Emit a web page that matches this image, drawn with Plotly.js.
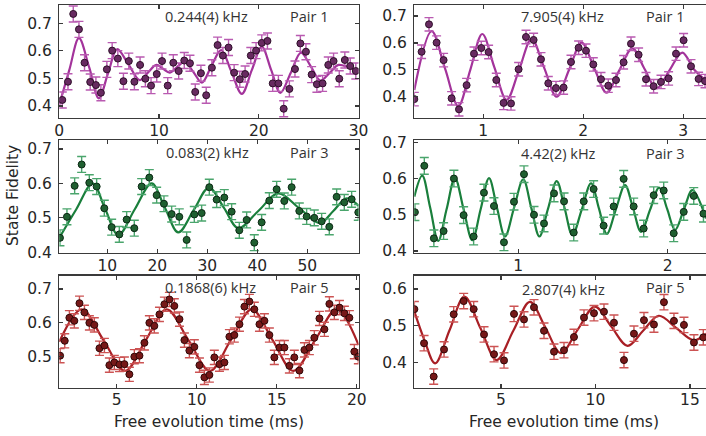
<!DOCTYPE html>
<html><head><meta charset="utf-8">
<script src="https://cdn.plot.ly/plotly-3.0.1.min.js"></script>
<style>html,body{margin:0;padding:0;background:#fff}#chart{width:706px;height:436px}</style>
</head><body><div id="chart"></div>
<script>
// ---- Panel 1: Pair 1, 0.244(4) kHz ----
const p1_t = [0.3,0.87,1.4,1.97,2.53,3.1,3.67,4.17,4.77,5.3,5.87,6.43,6.97,7.53,8.1,8.63,9.2,9.77,10.3,10.87,11.43,11.97,12.53,13.1,13.63,14.2,14.73,15.3,15.87,16.4,16.97,17.53,18.1,18.63,19.2,19.73,20.3,20.87,21.4,21.97,22.5,23.07,23.63,24.17,24.73,25.3,25.83,26.4,26.97,27.5,28.07,28.63,29.17,29.73];
const p1_v = [0.422,0.488,0.734,0.678,0.557,0.487,0.476,0.448,0.533,0.601,0.572,0.49,0.563,0.488,0.549,0.499,0.474,0.516,0.563,0.474,0.557,0.527,0.565,0.555,0.451,0.519,0.439,0.539,0.621,0.583,0.612,0.521,0.497,0.516,0.583,0.601,0.629,0.636,0.482,0.482,0.39,0.462,0.534,0.627,0.597,0.514,0.479,0.482,0.549,0.563,0.499,0.567,0.545,0.527];
const p1_err = 0.029;
const f1_t = [0,1.0,1.97,3.0,3.97,4.9,5.8,6.95,8.07,8.9,9.73,10.4,11.07,11.8,12.57,13.45,14.3,15.25,16.23,17.25,18.3,19.3,20.3,21.25,22.17,23.2,24.23,25.2,26.17,27.1,28.0,29.0,30];
const f1_v = [0.405,0.53,0.646,0.54,0.428,0.52,0.606,0.55,0.494,0.522,0.549,0.535,0.521,0.541,0.561,0.523,0.485,0.545,0.603,0.525,0.444,0.53,0.615,0.53,0.448,0.52,0.594,0.545,0.492,0.52,0.549,0.54,0.527];

// ---- Panel 2: Pair 1, 7.905(4) kHz ----
const p2_t = [0.31,0.383,0.457,0.533,0.603,0.683,0.757,0.833,0.907,0.98,1.053,1.13,1.203,1.277,1.353,1.427,1.503,1.577,1.65,1.727,1.803,1.877,1.953,2.027,2.1,2.177,2.25,2.327,2.403,2.477,2.553,2.627,2.703,2.777,2.853,2.927,3.003,3.077,3.153,3.217];
const p2_v = [0.391,0.567,0.669,0.601,0.536,0.394,0.353,0.443,0.56,0.581,0.566,0.462,0.377,0.375,0.502,0.622,0.611,0.539,0.45,0.432,0.434,0.529,0.582,0.571,0.52,0.465,0.441,0.462,0.528,0.597,0.556,0.465,0.439,0.455,0.468,0.56,0.61,0.513,0.466,0.458];
const p2_err = 0.025;
const f2_t = [0.31,0.483,0.617,0.75,0.87,0.99,1.11,1.233,1.358,1.483,1.608,1.733,1.858,1.983,2.108,2.233,2.36,2.49,2.61,2.733,2.86,2.99,3.11,3.227];
const f2_v = [0.425,0.644,0.505,0.365,0.50,0.633,0.51,0.388,0.50,0.615,0.508,0.40,0.50,0.601,0.508,0.415,0.498,0.580,0.505,0.431,0.497,0.564,0.50,0.46];

// ---- Panel 3: Pair 3, 0.083(2) kHz ----
const p3_t = [0.53,1.93,3.47,4.87,6.4,7.87,9.4,10.87,12.4,13.87,15.4,16.87,18.4,19.87,21.33,22.87,24.4,25.87,27.4,28.87,30.4,31.87,33.4,34.87,36.4,37.87,39.4,40.87,42.4,43.87,45.4,46.87,48.4,49.87,51.4,52.87,54.4,55.87,57.4,58.87,60.2];
const p3_v = [0.442,0.503,0.593,0.655,0.602,0.591,0.528,0.473,0.452,0.495,0.47,0.591,0.617,0.566,0.541,0.511,0.503,0.436,0.51,0.514,0.589,0.553,0.559,0.518,0.464,0.494,0.428,0.487,0.55,0.583,0.549,0.589,0.52,0.504,0.5,0.49,0.474,0.561,0.545,0.554,0.516];
const p3_err = 0.023;
const f3_t = [0.53,3.8,7.07,9.6,12.2,15.5,18.87,21.5,24.2,27.3,30.33,33.3,36.2,40.2,44.2,48.4,52.5,55.2,57.9,60.24];
const f3_v = [0.445,0.525,0.600,0.525,0.450,0.525,0.600,0.53,0.458,0.523,0.588,0.53,0.470,0.52,0.571,0.528,0.485,0.52,0.557,0.535];

// ---- Panel 4: Pair 3, 4.42(2) kHz ----
const p4_t = [0.308,0.371,0.435,0.5,0.569,0.634,0.701,0.77,0.837,0.904,0.971,1.038,1.105,1.172,1.239,1.306,1.371,1.438,1.504,1.571,1.638,1.705,1.772,1.839,1.906,1.973,2.04,2.107,2.174,2.239];
const p4_v = [0.507,0.635,0.435,0.455,0.6,0.499,0.44,0.561,0.524,0.424,0.536,0.612,0.5,0.476,0.559,0.537,0.451,0.537,0.571,0.47,0.523,0.599,0.523,0.462,0.554,0.567,0.449,0.508,0.552,0.503];
const p4_err = 0.023;
const f4_t = [0.304,0.357,0.41,0.464,0.52,0.576,0.634,0.692,0.748,0.804,0.857,0.911,0.972,1.033,1.087,1.141,1.199,1.257,1.31,1.362,1.425,1.487,1.54,1.592,1.653,1.714,1.768,1.821,1.882,1.942,1.996,2.049,2.107,2.165,2.256];
const f4_v = [0.55,0.608,0.52,0.428,0.515,0.602,0.515,0.430,0.515,0.601,0.52,0.440,0.52,0.598,0.519,0.440,0.517,0.593,0.518,0.444,0.515,0.587,0.517,0.447,0.515,0.582,0.518,0.453,0.514,0.575,0.516,0.458,0.513,0.568,0.49];

// ---- Panel 5: Pair 5, 0.1868(6) kHz ----
const p5_t = [1.46,1.75,2.04,2.35,2.67,2.98,3.29,3.6,3.92,4.23,4.54,4.85,5.17,5.48,5.79,6.1,6.42,6.73,7.04,7.35,7.67,7.98,8.29,8.6,8.92,9.23,9.54,9.85,10.17,10.48,10.79,11.1,11.42,11.73,12.04,12.35,12.67,12.98,13.29,13.6,13.92,14.23,14.54,14.85,15.17,15.48,15.79,16.1,16.42,16.73,17.04,17.35,17.67,17.98,18.29,18.6,18.92,19.23,19.54,19.85,20.1];
const p5_v = [0.503,0.547,0.615,0.606,0.658,0.631,0.6,0.594,0.525,0.533,0.475,0.483,0.477,0.478,0.448,0.5,0.503,0.541,0.6,0.591,0.625,0.655,0.669,0.65,0.611,0.549,0.518,0.529,0.475,0.439,0.446,0.498,0.478,0.483,0.559,0.564,0.596,0.648,0.663,0.64,0.596,0.606,0.564,0.498,0.527,0.527,0.473,0.498,0.459,0.52,0.527,0.556,0.613,0.581,0.656,0.631,0.645,0.628,0.615,0.515,0.5];
const p5_err = 0.021;
const f5_t = [1.41,2.81,4.17,5.52,6.82,8.125,9.48,10.83,12.13,13.44,14.74,16.04,17.4,18.75,20.11];
const f5_v = [0.544,0.640,0.549,0.458,0.549,0.640,0.549,0.458,0.549,0.640,0.549,0.458,0.549,0.640,0.535];

// ---- Panel 6: Pair 5, 2.807(4) kHz ----
const p6_t = [0.414,0.926,1.437,1.984,2.496,3.025,3.554,4.101,4.63,5.159,5.688,6.217,6.746,7.275,7.804,8.333,8.862,9.392,9.921,10.45,10.979,11.508,12.037,12.566,13.095,13.624,14.153,14.683,15.212,15.706];
const p6_v = [0.545,0.452,0.361,0.435,0.531,0.567,0.545,0.476,0.422,0.405,0.532,0.517,0.55,0.486,0.429,0.433,0.469,0.522,0.534,0.538,0.508,0.406,0.478,0.515,0.503,0.564,0.513,0.502,0.454,0.468];
const p6_err = 0.021;
const f6_t = [0.414,0.95,1.508,2.28,3.06,3.92,4.77,5.65,6.53,7.35,8.17,9.07,9.97,10.83,11.7,12.52,13.35,14.27,15.2,15.85];
const f6_v = [0.538,0.46,0.397,0.488,0.579,0.492,0.406,0.486,0.565,0.495,0.425,0.49,0.552,0.498,0.445,0.486,0.527,0.494,0.46,0.478];

// ---- labels ----
const freqLabels = ["0.244(4) kHz","7.905(4) kHz","0.083(2) kHz","4.42(2) kHz","0.1868(6) kHz","2.807(4) kHz"];
const pairLabels = ["Pair 1","Pair 1","Pair 3","Pair 3","Pair 5","Pair 5"];
const yTicks = [0.4,0.5,0.6,0.7];
const xTicks = [[0,10,20,30],[1,2,3],[10,20,30,40,50],[1,2],[5,10,15,20],[5,10,15]];
const yTitle = "State Fidelity";
const xTitle = "Free evolution time (ms)";

// ---- styling ----
const W = 706, H = 436;
const colors = [
  {line:'#a3339b', err:'#b95ab1', fill:'#672a60', edge:'#2e1029'},
  {line:'#a3339b', err:'#b95ab1', fill:'#672a60', edge:'#2e1029'},
  {line:'#1a7f3c', err:'#4aa56c', fill:'#1f5f30', edge:'#0c2814'},
  {line:'#1a7f3c', err:'#4aa56c', fill:'#1f5f30', edge:'#0c2814'},
  {line:'#a81f25', err:'#cc5353', fill:'#761818', edge:'#2e0808'},
  {line:'#a81f25', err:'#cc5353', fill:'#761818', edge:'#2e0808'}
];
const pts = [[p1_t,p1_v,p1_err],[p2_t,p2_v,p2_err],[p3_t,p3_v,p3_err],[p4_t,p4_v,p4_err],[p5_t,p5_v,p5_err],[p6_t,p6_v,p6_err]];
const fits = [[f1_t,f1_v],[f2_t,f2_v],[f3_t,f3_v],[f4_t,f4_v],[f5_t,f5_v],[f6_t,f6_v]];

// pixel geometry of plot areas
const px = {L:[59.3,358.5], R:[414.3,706]};
const rowsPx = [[5,118],[140,253],[275.5,387.5]];
const xRanges = [[0,30],[0.31,3.227],[0.4,60.24],[0.304,2.256],[1.41,20.11],[0.41,15.85]];
const yRanges = [[0.3565,0.7664],[0.3208,0.7409],[0.398,0.7261],[0.3945,0.7063],[0.409,0.7399],[0.3312,0.6368]];

const data = [];
const layout = {
  width: W, height: H,
  margin: {l:0, r:0, t:0, b:0},
  paper_bgcolor: '#ffffff', plot_bgcolor: '#ffffff',
  showlegend: false,
  font: {family: 'DejaVu Sans', size: 15.5, color: '#262626'},
  annotations: []
};

for (let i = 0; i < 6; i++) {
  const col = i % 2, row = Math.floor(i / 2);
  const sfx = i === 0 ? '' : String(i + 1);
  const xa = 'x' + sfx, ya = 'y' + sfx;
  const xs = col === 0 ? px.L : px.R;
  const rp = rowsPx[row];
  layout['xaxis' + sfx] = {
    domain: [xs[0] / W, xs[1] / W], range: xRanges[i], anchor: ya,
    tickmode: 'array', tickvals: xTicks[i],
    showline: true, linecolor: '#3a3a3a', linewidth: 1.3, mirror: 'allticks',
    ticks: 'inside', ticklen: 4, tickwidth: 1.2, tickcolor: '#3a3a3a',
    showgrid: false, zeroline: false, ticklabelstandoff: -2,
    tickfont: {family: 'DejaVu Sans', size: 15.5, color: '#262626'}
  };
  layout['yaxis' + sfx] = {
    domain: [1 - rp[1] / H, 1 - rp[0] / H], range: yRanges[i], anchor: xa,
    tickmode: 'array', tickvals: yTicks, tickformat: '.1f',
    showline: true, linecolor: '#3a3a3a', linewidth: 1.3, mirror: col === 0 ? 'allticks' : false,
    ticks: 'inside', ticklen: 4, tickwidth: 1.2, tickcolor: '#3a3a3a',
    showgrid: false, zeroline: false, ticklabelstandoff: 3,
    tickfont: {family: 'DejaVu Sans', size: 15.5, color: '#262626'}
  };
  data.push({
    type: 'scatter', mode: 'lines', x: fits[i][0], y: fits[i][1], xaxis: xa, yaxis: ya,
    line: {color: colors[i].line, width: 2.2, shape: 'spline', smoothing: 1.0},
    hoverinfo: 'skip'
  });
  data.push({
    type: 'scatter', mode: 'markers', x: pts[i][0], y: pts[i][1], xaxis: xa, yaxis: ya,
    marker: {size: 7, color: colors[i].fill, line: {color: colors[i].edge, width: 1}},
    error_y: {type: 'constant', value: pts[i][2], color: colors[i].err, thickness: 1.4, width: 4.5},
    cliponaxis: true
  });
}

// in-panel annotations (pixel positions converted to paper)
const annPos = [
  [[206.7,16],[309,16]], [[562.5,16],[665,16]],
  [[207,152.3],[308.8,152]], [[558,153.3],[665,153]],
  [[210.8,287],[308.7,287]], [[563,289.3],[665,287]]
];
for (let i = 0; i < 6; i++) {
  const a = annPos[i];
  layout.annotations.push({xref:'paper', yref:'paper', x: a[0][0]/W, y: 1 - a[0][1]/H, xanchor:'center', yanchor:'middle',
    text: freqLabels[i], showarrow:false, font:{family:'Open Sans', size:14.5, color:'#333333'}});
  layout.annotations.push({xref:'paper', yref:'paper', x: a[1][0]/W, y: 1 - a[1][1]/H, xanchor:'center', yanchor:'middle',
    text: pairLabels[i], showarrow:false, font:{family:'Open Sans', size:14.5, color:'#333333'}});
}
layout.annotations.push({xref:'paper', yref:'paper', x: 13/W, y: 1 - 196/H, xanchor:'center', yanchor:'middle',
  text: yTitle, textangle: -90, showarrow:false, font:{family:'DejaVu Sans', size:15.5, color:'#262626'}});
layout.annotations.push({xref:'paper', yref:'paper', x: 208.7/W, y: 1 - 421.7/H, xanchor:'center', yanchor:'middle',
  text: xTitle, showarrow:false, font:{family:'DejaVu Sans', size:15.5, color:'#262626'}});
layout.annotations.push({xref:'paper', yref:'paper', x: 563.7/W, y: 1 - 421.7/H, xanchor:'center', yanchor:'middle',
  text: xTitle, showarrow:false, font:{family:'DejaVu Sans', size:15.5, color:'#262626'}});

Plotly.newPlot('chart', data, layout, {staticPlot: true, displayModeBar: false});
</script></body></html>
